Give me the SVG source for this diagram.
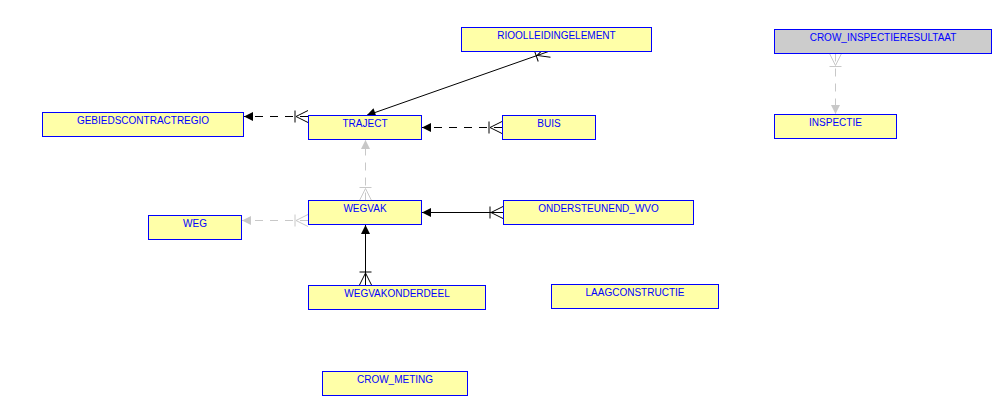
<svg xmlns="http://www.w3.org/2000/svg" width="1002" height="406" viewBox="0 0 1002 406">
<style>
.box rect{fill:#ffffa8;stroke:#0000ff;stroke-width:1}
.box.grey rect{fill:#cccccc}
.box text{font-family:"Liberation Sans",Arial,sans-serif;font-size:10px;fill:#0000ff;text-anchor:middle}
.c{fill:none;stroke-width:1}
.blk{stroke:#000}
.gry{stroke:#c8c8c8}
.dash{stroke-dasharray:8,7}
</style>
<defs>
<marker id="arrB" markerUnits="userSpaceOnUse" orient="auto" refX="0" refY="0" markerWidth="12" markerHeight="12" viewBox="-10 -6 12 12" overflow="visible">
<path d="M0,0 L-9,-4.5 L-9,4.5 Z" fill="#000"/>
</marker>
<marker id="arrG" markerUnits="userSpaceOnUse" orient="auto" refX="0" refY="0" markerWidth="12" markerHeight="12" viewBox="-10 -6 12 12" overflow="visible">
<path d="M0,0 L-9,-4.5 L-9,4.5 Z" fill="#c8c8c8"/>
</marker>
<marker id="crowB" markerUnits="userSpaceOnUse" orient="auto" refX="0" refY="0" markerWidth="16" markerHeight="16" viewBox="-2 -8 16 16" overflow="visible">
<path d="M0,-6 L12,0 L0,6 M13,-6 V6" fill="none" stroke="#000" stroke-width="1"/>
</marker>
<marker id="crowG" markerUnits="userSpaceOnUse" orient="auto" refX="0" refY="0" markerWidth="16" markerHeight="16" viewBox="-2 -8 16 16" overflow="visible">
<path d="M0,-6 L12,0 L0,6 M13,-6 V6" fill="none" stroke="#c8c8c8" stroke-width="1"/>
</marker>
</defs>
<rect width="1002" height="406" fill="#fff"/>
<g id="connectors">
<path class="c blk dash" d="M308,116.5 H244" marker-start="url(#crowB)" marker-end="url(#arrB)"/>
<path class="c blk dash" d="M502,127.5 H422" marker-start="url(#crowB)" marker-end="url(#arrB)"/>
<path class="c blk" d="M548.5,51.5 L366.5,115.5" marker-start="url(#crowB)" marker-end="url(#arrB)"/>
<path class="c gry dash" d="M365.5,200.5 V140" marker-start="url(#crowG)" marker-end="url(#arrG)"/>
<path class="c gry dash" d="M308,220.5 H242" marker-start="url(#crowG)" marker-end="url(#arrG)"/>
<path class="c blk" d="M503,212.5 H422" marker-start="url(#crowB)" marker-end="url(#arrB)"/>
<path class="c blk" d="M365.5,285 V225" marker-start="url(#crowB)" marker-end="url(#arrB)"/>
<path class="c gry dash" d="M835.5,53.5 V114" marker-start="url(#crowG)" marker-end="url(#arrG)"/>
</g>
<g id="RIOOLLEIDINGELEMENT" class="box"><rect x="461.5" y="27.5" width="190" height="24"/><text x="556.5" y="38.5">RIOOLLEIDINGELEMENT</text></g>
<g id="CROW_INSPECTIERESULTAAT" class="box grey"><rect x="774.5" y="29.5" width="217" height="24"/><text x="883" y="40.5">CROW_INSPECTIERESULTAAT</text></g>
<g id="GEBIEDSCONTRACTREGIO" class="box"><rect x="42.5" y="112.5" width="201" height="24"/><text x="143" y="123.5">GEBIEDSCONTRACTREGIO</text></g>
<g id="TRAJECT" class="box"><rect x="308.5" y="115.5" width="113" height="24"/><text x="365" y="126.5">TRAJECT</text></g>
<g id="BUIS" class="box"><rect x="502.5" y="115.5" width="93" height="24"/><text x="549" y="126.5">BUIS</text></g>
<g id="INSPECTIE" class="box"><rect x="774.5" y="114.5" width="122" height="24"/><text x="835.5" y="125.5">INSPECTIE</text></g>
<g id="WEG" class="box"><rect x="148.5" y="215.5" width="93" height="24"/><text x="195" y="226.5">WEG</text></g>
<g id="WEGVAK" class="box"><rect x="308.5" y="200.5" width="113" height="24"/><text x="365" y="211.5">WEGVAK</text></g>
<g id="ONDERSTEUNEND_WVO" class="box"><rect x="503.5" y="200.5" width="190" height="24"/><text x="598.5" y="211.5">ONDERSTEUNEND_WVO</text></g>
<g id="WEGVAKONDERDEEL" class="box"><rect x="308.5" y="285.5" width="177" height="24"/><text x="397" y="296.5">WEGVAKONDERDEEL</text></g>
<g id="LAAGCONSTRUCTIE" class="box"><rect x="551.5" y="284.5" width="167" height="24"/><text x="635" y="295.5">LAAGCONSTRUCTIE</text></g>
<g id="CROW_METING" class="box"><rect x="322.5" y="371.5" width="145" height="24"/><text x="395" y="382.5">CROW_METING</text></g>
</svg>
